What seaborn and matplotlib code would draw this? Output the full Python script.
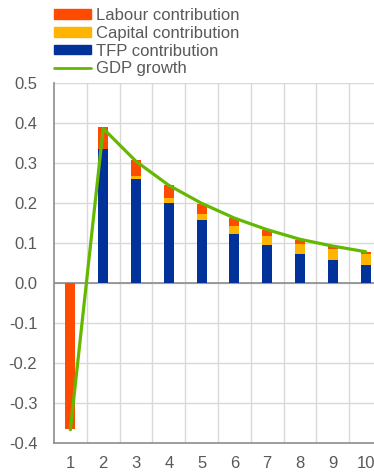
import matplotlib
matplotlib.use("Agg")
import matplotlib.pyplot as plt
import seaborn as sns
import numpy as np
import pandas as pd
from matplotlib.patches import Patch
from matplotlib.lines import Line2D

periods = ["1", "2", "3", "4", "5", "6", "7", "8", "9", "10"]
tfp = [0.0, 0.336, 0.260, 0.200, 0.157, 0.122, 0.096, 0.074, 0.058, 0.045]
capital = [0.0, -0.003, 0.007, 0.014, 0.017, 0.021, 0.023, 0.024, 0.027, 0.0275]
labour = [-0.364, 0.054, 0.041, 0.031, 0.024, 0.019, 0.013, 0.010, 0.007, 0.005]
gdp = [-0.366, 0.387, 0.305, 0.245, 0.200, 0.163, 0.134, 0.110, 0.093, 0.079]
yticks = [-0.4, -0.3, -0.2, -0.1, 0.0, 0.1, 0.2, 0.3, 0.4, 0.5]

labels = ["Labour contribution", "Capital contribution", "TFP contribution", "GDP growth"]
c_lab, c_cap, c_tfp, c_gdp = "#ff4b00", "#ffb400", "#003299", "#65b800"

sns.set_theme(style="white")
plt.rcParams["font.family"] = ["Liberation Sans", "DejaVu Sans"]

fig = plt.figure(figsize=(3.74, 4.73), dpi=100)
ax = fig.add_axes([54 / 374, 29.7 / 473, 328 / 374, 360 / 473])

df = pd.DataFrame({"period": periods, "tfp": tfp, "capital": capital, "labour": labour, "gdp": gdp})

# stacked bars (positive and negative stacks separately)
pos_bottom = np.zeros(len(periods))
neg_bottom = np.zeros(len(periods))
for col, color in [("tfp", c_tfp), ("capital", c_cap), ("labour", c_lab)]:
    vals = df[col].to_numpy()
    bottom = np.where(vals >= 0, pos_bottom, neg_bottom)
    sns.barplot(x=df["period"], y=vals, bottom=bottom, color=color, width=0.3,
                saturation=1, ax=ax, linewidth=0, zorder=3)
    pos_bottom = pos_bottom + np.where(vals >= 0, vals, 0)
    neg_bottom = neg_bottom + np.where(vals < 0, vals, 0)

sns.lineplot(x=np.arange(len(periods)), y=df["gdp"], color=c_gdp, linewidth=2.3,
             ax=ax, zorder=4)

ax.set_xlim(-0.5, 9.5)
ax.set_ylim(-0.4, 0.5)
ax.set_yticks(yticks)
ax.set_yticklabels([f"{v:.1f}" for v in yticks])
ax.set_xticks(range(len(periods)))
ax.set_xticklabels(periods)
ax.set_xlabel("")
ax.set_ylabel("")

# grid: vertical lines between categories, horizontal at ticks
for xv in np.arange(0.5, 9.5, 1.0):
    ax.axvline(xv, color="#d9d9d9", lw=1.0, zorder=0)
for yv in yticks[1:]:
    ax.axhline(yv, color="#d9d9d9", lw=1.0, zorder=0)
ax.axhline(0, color="#8c8c8c", lw=1.2, zorder=2)

for s in ["top", "right"]:
    ax.spines[s].set_visible(False)
for s in ["left", "bottom"]:
    ax.spines[s].set_color("#8c8c8c")
    ax.spines[s].set_linewidth(1.2)

ax.tick_params(axis="y", direction="in", length=5, color="#8c8c8c", width=1.2,
               labelsize=12, labelcolor="#595959", pad=12)
ax.tick_params(axis="x", length=0, labelsize=12, labelcolor="#595959", pad=9)

handles = [Patch(color=c_lab), Patch(color=c_cap), Patch(color=c_tfp),
           Line2D([0], [0], color=c_gdp, lw=2)]
fig.legend(handles, labels, loc="upper left", bbox_to_anchor=(54 / 374, 1 - 8 / 473),
           frameon=False, fontsize=12, labelcolor="#595959", borderpad=0,
           borderaxespad=0, labelspacing=0.17, handlelength=2.2, handleheight=0.5,
           handletextpad=0.3)

fig.savefig("out.png", dpi=100)
